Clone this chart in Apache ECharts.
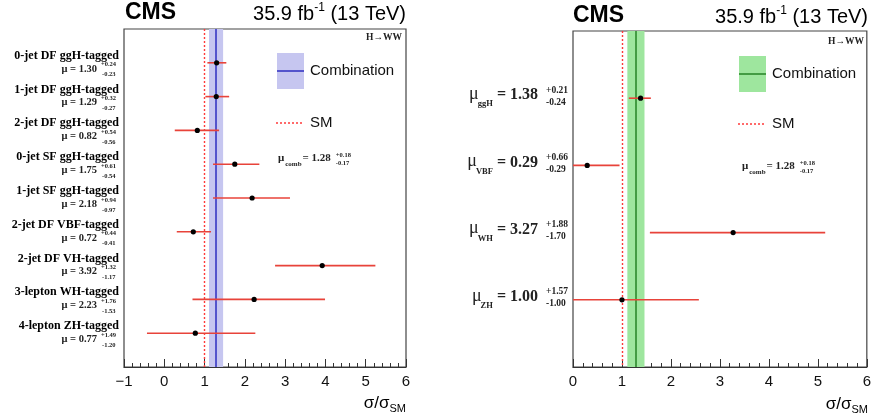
<!DOCTYPE html>
<html><head><meta charset="utf-8">
<script src="https://cdn.jsdelivr.net/npm/echarts/dist/echarts.min.js"></script>
<style>html,body{margin:0;padding:0;background:#fff}#c{width:874px;height:418px}</style>
</head><body><div id="c"></div>
<script>
// ---------------- data ----------------
const leftCategories = ['0-jet DF ggH-tagged','1-jet DF ggH-tagged','2-jet DF ggH-tagged','0-jet SF ggH-tagged','1-jet SF ggH-tagged','2-jet DF VBF-tagged','2-jet DF VH-tagged','3-lepton WH-tagged','4-lepton ZH-tagged'];
const leftMu = [1.30, 1.29, 0.82, 1.75, 2.18, 0.72, 3.92, 2.23, 0.77];
const leftErrUp = [0.24, 0.32, 0.54, 0.61, 0.94, 0.44, 1.32, 1.76, 1.49];
const leftErrDown = [0.23, 0.27, 0.56, 0.54, 0.97, 0.41, 1.17, 1.53, 1.20];

const rightProcesses = ['ggH','VBF','WH','ZH'];
const rightMu = [1.38, 0.29, 3.27, 1.00];
const rightErrUp = [0.21, 0.66, 1.88, 1.57];
const rightErrDown = [0.24, 0.29, 1.70, 1.00];

const combMu = 1.28, combErrUp = 0.18, combErrDown = 0.17;
const smValue = 1;

const leftXTicks = [-1, 0, 1, 2, 3, 4, 5, 6];
const rightXTicks = [0, 1, 2, 3, 4, 5, 6];

// ---------------- helpers ----------------
const SERIF = '"Liberation Serif", "DejaVu Serif", serif';
const SANS = '"Liberation Sans", Arial, sans-serif';
const mctx = document.createElement('canvas').getContext('2d');
function tw(text, font){ mctx.font = font; return mctx.measureText(text).width; }
function T(x, y, text, font, align, valign, fill){
  return {type:'text', x:x, y:y, silent:true, style:{text:text, font:font, fill:fill||'#000',
    align:align||'left', verticalAlign:valign||'middle', textAlign:align||'left', textVerticalAlign:valign||'middle'}};
}
function fmtErr(v, sign){ return sign + v.toFixed(2); }

const errColor = '#e8433a';
const blueBand = '#c6c6f0', blueLine = '#3737c4';
const greenBand = '#9ee69e', greenLine = '#2c8a2c';
const smColor = '#ff3a3a';

function errRender(params, api){
  const y = api.value(1);
  const p0 = api.coord([api.value(2), y]);
  const p1 = api.coord([api.value(3), y]);
  const pc = api.coord([api.value(0), y]);
  return {type:'group', children:[
    {type:'line', shape:{x1:p0[0], y1:p0[1], x2:p1[0], y2:p1[1]}, style:{stroke:errColor, lineWidth:1.6}},
    {type:'circle', shape:{cx:pc[0], cy:pc[1], r:2.6}, style:{fill:'#000'}}
  ]};
}

function leftLabelRender(params, api){
  const i = params.dataIndex;
  const y = api.coord([leftMu[i], api.value(1)])[1];
  const x0 = params.coordSys.x;
  const fCat = 'bold 12px ' + SERIF;
  const fMu = 'bold 10.5px ' + SERIF;
  const fErr = 'bold 6.5px ' + SERIF;
  return {type:'group', children:[
    T(x0 - 5, y - 7, leftCategories[i], fCat, 'right'),
    T(x0 - 27, y + 6, '\u03bc = ' + leftMu[i].toFixed(2), fMu, 'right', 'middle', '#222'),
    T(x0 - 23, y + 2, fmtErr(leftErrUp[i], '+'), fErr, 'left', 'middle', '#222'),
    T(x0 - 22, y + 12, fmtErr(leftErrDown[i], '-'), fErr, 'left', 'middle', '#222')
  ]};
}

function rightLabelRender(params, api){
  const i = params.dataIndex;
  const y = api.coord([rightMu[i], api.value(1)])[1];
  const x0 = params.coordSys.x;
  const fVal = 'bold 16px ' + SERIF;
  const fSub = 'bold 8.5px ' + SERIF;
  const fMu = '18px ' + SERIF;
  const fErr = 'bold 9.5px ' + SERIF;
  const valText = '= ' + rightMu[i].toFixed(2);
  const valRight = x0 - 35;
  const valLeft = valRight - tw(valText, fVal);
  const subRight = valLeft - 4;
  const subLeft = subRight - tw(rightProcesses[i], fSub);
  return {type:'group', children:[
    T(valRight, y - 3, valText, fVal, 'right', 'middle', '#222'),
    T(subRight, y + 6, rightProcesses[i], fSub, 'right', 'middle', '#222'),
    T(subLeft + 1, y - 4, '\u03bc', fMu, 'right', 'middle', '#222'),
    T(x0 - 27, y - 8, fmtErr(rightErrUp[i], '+'), fErr, 'left', 'middle', '#222'),
    T(x0 - 27, y + 4, fmtErr(rightErrDown[i], '-'), fErr, 'left', 'middle', '#222')
  ]};
}

function xAxisCfg(gridIndex, ticks){
  return {
    type:'value', gridIndex:gridIndex, min:ticks[0], max:ticks[ticks.length-1], interval:1,
    axisLine:{show:true, onZero:false, lineStyle:{color:'#333', width:1}},
    axisTick:{show:true, inside:true, length:8, lineStyle:{color:'#333'}},
    minorTick:{show:true, splitNumber:5, length:4, lineStyle:{color:'#333'}},
    splitLine:{show:false}, minorSplitLine:{show:false},
    axisLabel:{show:true, fontSize:15, fontFamily:SANS, color:'#111', margin:7, showMinLabel:true, showMaxLabel:true,
      formatter: v => (v < 0 ? '\u2212' + Math.abs(v) : String(v))}
  };
}
function yAxisCfg(gridIndex, n){
  return {type:'value', gridIndex:gridIndex, min:0, max:n+1, inverse:true, show:false};
}

function refSeries(xIdx, bandColor, lineColor){
  return {
    type:'line', xAxisIndex:xIdx, yAxisIndex:xIdx, data:[], silent:true, symbol:'none',
    markArea:{silent:true, itemStyle:{color:bandColor, opacity:1}, data:[[{xAxis: combMu - combErrDown}, {xAxis: combMu + combErrUp}]]},
    markLine:{silent:true, symbol:'none', label:{show:false}, animation:false, data:[
      {xAxis: combMu, lineStyle:{color:lineColor, width:1.6, type:'solid'}},
      {xAxis: smValue, lineStyle:{color:smColor, width:1.4, type:[2,2]}}
    ]}
  };
}

// ---------- header / legend graphics ----------
function header(xLeft, xRight, yc){
  const fCMS = 'bold 23px ' + SANS;
  const fLumi = '20px ' + SANS;
  const fSup = '12px ' + SANS;
  const tail = ' (13 TeV)';
  const head = '35.9 fb';
  const tailW = tw(tail, fLumi), supW = tw('-1', fSup), headW = tw(head, fLumi);
  return [
    T(xLeft, yc, 'CMS', fCMS, 'left'),
    T(xRight, yc + 1, tail, fLumi, 'right'),
    T(xRight - tailW, yc - 5, '-1', fSup, 'right'),
    T(xRight - tailW - supW, yc + 1, head, fLumi, 'right')
  ];
}
function axisTitle(xRight, yc){
  const fS = '17px ' + SANS, fSub = '11px ' + SANS;
  const subW = tw('SM', fSub);
  return [
    T(xRight, yc + 5, 'SM', fSub, 'right'),
    T(xRight - subW, yc - 1, '\u03c3/\u03c3', fS, 'right')
  ];
}
function legend(x, yBox, bandColor, lineColor, ySM, xComb, yComb){
  const fLeg = '15px ' + SANS;
  const fMu = 'bold 11px ' + SERIF, fSub = 'bold 7px ' + SERIF, fErr = 'bold 6.5px ' + SERIF;
  const muW = tw('\u03bc', fMu), subW = tw('comb', fSub);
  const valText = '= ' + combMu.toFixed(2);
  const valW = tw(valText, fMu);
  const xv = xComb + muW + subW + 2;
  return [
    {type:'rect', silent:true, shape:{x:x, y:yBox, width:27, height:36}, style:{fill:bandColor}},
    {type:'line', silent:true, shape:{x1:x, y1:yBox+18, x2:x+27, y2:yBox+18}, style:{stroke:lineColor, lineWidth:1.6}},
    T(x + 33, yBox + 18, 'Combination', fLeg, 'left', 'middle', '#111'),
    {type:'line', silent:true, shape:{x1:x-1, y1:ySM, x2:x+27, y2:ySM}, style:{stroke:smColor, lineWidth:1.4, lineDash:[2,2]}},
    T(x + 33, ySM, 'SM', fLeg, 'left', 'middle', '#111'),
    T(xComb, yComb, '\u03bc', fMu, 'left', 'middle', '#222'),
    T(xComb + muW + 1, yComb + 6, 'comb', fSub, 'left', 'middle', '#222'),
    T(xv, yComb, valText, fMu, 'left', 'middle', '#222'),
    T(xv + valW + 5, yComb - 3, fmtErr(combErrUp, '+'), fErr, 'left', 'middle', '#222'),
    T(xv + valW + 5, yComb + 5, fmtErr(combErrDown, '-'), fErr, 'left', 'middle', '#222')
  ];
}

const graphics = [].concat(
  header(125, 406, 13),
  header(573, 868, 16),
  axisTitle(406, 404),
  axisTitle(868, 405),
  legend(277, 53, blueBand, blueLine, 123, 278, 158),
  legend(739, 56, greenBand, greenLine, 124, 742, 166),
  [T(402, 38, 'H\u2192WW', 'bold 9.5px ' + SERIF, 'right', 'middle', '#222'),
   T(864, 42, 'H\u2192WW', 'bold 9.5px ' + SERIF, 'right', 'middle', '#222')]
);

const chart = echarts.init(document.getElementById('c'), null, {renderer:'canvas'});
chart.setOption({
  animation:false,
  backgroundColor:'#fff',
  grid:[
    {left:124, top:29, width:282, height:338, show:true, borderColor:'#444', borderWidth:1.2, backgroundColor:'transparent'},
    {left:573, top:31, width:295, height:336, show:true, borderColor:'#444', borderWidth:1.2, backgroundColor:'transparent'}
  ],
  xAxis:[xAxisCfg(0, leftXTicks), xAxisCfg(1, rightXTicks)],
  yAxis:[yAxisCfg(0, leftCategories.length), yAxisCfg(1, rightProcesses.length)],
  series:[
    refSeries(0, blueBand, blueLine),
    refSeries(1, greenBand, greenLine),
    {type:'custom', xAxisIndex:0, yAxisIndex:0, silent:true, renderItem:errRender, encode:{x:[0,2,3], y:1},
      data: leftMu.map((m,i)=>[m, i+1, m-leftErrDown[i], m+leftErrUp[i]]), z:5},
    {type:'custom', xAxisIndex:1, yAxisIndex:1, silent:true, renderItem:errRender, encode:{x:[0,2,3], y:1},
      data: rightMu.map((m,i)=>[m, i+1, m-rightErrDown[i], m+rightErrUp[i]]), z:5},
    {type:'custom', xAxisIndex:0, yAxisIndex:0, silent:true, clip:false, renderItem:leftLabelRender, encode:{x:0, y:1},
      data: leftMu.map((m,i)=>[m, i+1])},
    {type:'custom', xAxisIndex:1, yAxisIndex:1, silent:true, clip:false, renderItem:rightLabelRender, encode:{x:0, y:1},
      data: rightMu.map((m,i)=>[m, i+1])}
  ],
  graphic: graphics
});
</script>
</body></html>
